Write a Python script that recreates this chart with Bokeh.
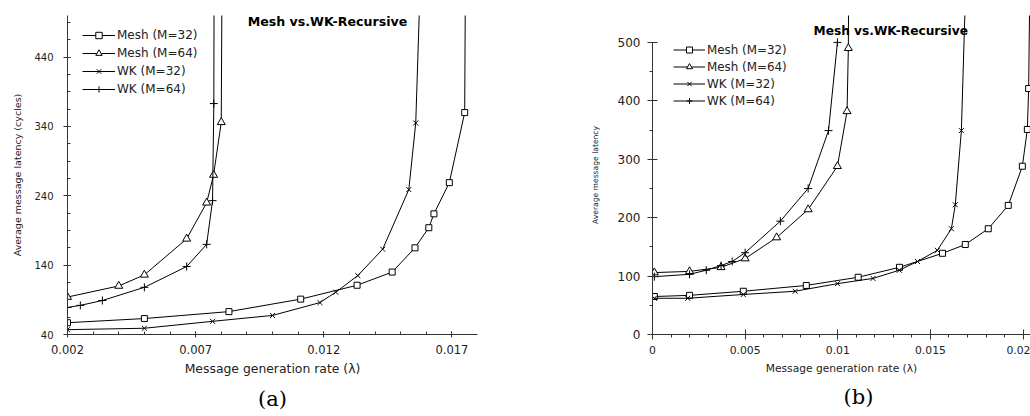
import numpy as np
from bokeh.plotting import figure
from bokeh.layouts import row
from bokeh.models import FixedTicker, Range1d, Label, Title, Legend, LegendItem
from bokeh.embed import file_html
from bokeh.resources import INLINE

# ---------------- data: panel (a) ----------------
a_mesh32_x = [0.002, 0.005, 0.0083, 0.0111, 0.0133, 0.01467, 0.01556, 0.0161, 0.0163, 0.0169, 0.0175, 0.01755]
a_mesh32_y = [57, 63, 73, 91, 111, 130, 165, 194, 214, 259, 360, 700]
a_mesh64_x = [0.002, 0.004, 0.005, 0.00665, 0.00743, 0.0077, 0.008, 0.00805]
a_mesh64_y = [94, 110, 126, 178, 230, 270, 346, 700]
a_wk32_x = [0.002, 0.005, 0.00766, 0.0100, 0.01185, 0.01247, 0.01333, 0.0143, 0.01532, 0.01559, 0.0159]
a_wk32_y = [47, 49, 59, 67.5, 86, 101, 125, 163, 249, 345, 700]
a_wk64_x = [0.002, 0.0025, 0.00336, 0.005, 0.00665, 0.00743, 0.00766, 0.00771, 0.00773]
a_wk64_y = [79, 82, 89, 108, 138, 170, 233, 373, 700]
a_xticks = [0.002, 0.007, 0.012, 0.017]
a_xlabels = ["0.002", "0.007", "0.012", "0.017"]
a_yticks = [40, 140, 240, 340, 440]

# ---------------- data: panel (b) ----------------
b_mesh32_x = [0.0001, 0.002, 0.0049, 0.0083, 0.0111, 0.01333, 0.01565, 0.01688, 0.01812, 0.0192, 0.01996, 0.02023, 0.0203, 0.0204]
b_mesh32_y = [65, 67, 74, 84, 98, 115, 139, 154, 181, 221, 288, 351, 421, 700]
b_mesh64_x = [0.0001, 0.002, 0.0037, 0.005, 0.0067, 0.0084, 0.00998, 0.0105, 0.01057, 0.0106]
b_mesh64_y = [106, 108, 115, 130, 166, 214, 288, 382, 490, 700]
b_wk32_x = [0.0001, 0.0019, 0.0049, 0.0077, 0.00998, 0.0119, 0.01332, 0.0143, 0.01537, 0.01613, 0.01634, 0.01667, 0.0170]
b_wk32_y = [62, 62, 68.5, 74, 87, 96, 110, 125, 144, 181, 222, 349, 700]
b_wk64_x = [0.0001, 0.002, 0.0029, 0.0037, 0.0043, 0.005, 0.0069, 0.0084, 0.0095, 0.00998]
b_wk64_y = [99, 103, 110, 118, 125, 140, 194, 250, 349, 500]
b_xticks = [0, 0.005, 0.01, 0.015, 0.02]
b_xlabels = ["0", "0.005", "0.01", "0.015", "0.02"]
b_yticks = [0, 100, 200, 300, 400, 500]

series_names = ["Mesh (M=32)", "Mesh (M=64)", "WK (M=32)", "WK (M=64)"]
markers = ["square", "triangle", "x", "cross"]
msizes = [6, 8, 7, 8]

FONT = "DejaVu Sans"
AXC = "#333333"
TXC = "#222222"


def style_axes(p, xt, xl, xminor, yt, yminor, tick_font_x, tick_font_y, lab_font_x, lab_font_y,
               xlab, ylab, xt_in, xt_out, xm_in, xm_out, yt_in, yt_out, ym_in, ym_out,
               x_std, x_lstd, y_std, y_lstd):
    p.outline_line_color = None
    p.xgrid.visible = False
    p.ygrid.visible = False
    p.xaxis.ticker = FixedTicker(ticks=xt, minor_ticks=xminor)
    p.xaxis.major_label_overrides = {t: l for t, l in zip(xt, xl)}
    p.yaxis.ticker = FixedTicker(ticks=yt, minor_ticks=yminor)
    for ax in (p.xaxis[0], p.yaxis[0]):
        ax.axis_line_color = AXC
        ax.major_tick_line_color = AXC
        ax.minor_tick_line_color = AXC
        ax.major_label_text_font = FONT
        ax.major_label_text_color = TXC
        ax.axis_label_text_font = FONT
        ax.axis_label_text_font_style = "normal"
        ax.axis_label_text_color = TXC
    p.xaxis.major_label_text_font_size = tick_font_x
    p.yaxis.major_label_text_font_size = tick_font_y
    p.xaxis.axis_label = xlab
    p.yaxis.axis_label = ylab
    p.xaxis.axis_label_text_font_size = lab_font_x
    p.yaxis.axis_label_text_font_size = lab_font_y
    p.xaxis.major_tick_in = xt_in
    p.xaxis.major_tick_out = xt_out
    p.xaxis.minor_tick_in = xm_in
    p.xaxis.minor_tick_out = xm_out
    p.yaxis.major_tick_in = yt_in
    p.yaxis.major_tick_out = yt_out
    p.yaxis.minor_tick_in = ym_in
    p.yaxis.minor_tick_out = ym_out
    p.xaxis.major_label_standoff = x_std
    p.xaxis.axis_label_standoff = x_lstd
    p.yaxis.major_label_standoff = y_std
    p.yaxis.axis_label_standoff = y_lstd


def add_series(p, xs, ys):
    items = []
    for x, y, name, mk, ms in zip(xs, ys, series_names, markers, msizes):
        l = p.line(x, y, line_color="black", line_width=1)
        s = p.scatter(x, y, marker=mk, size=ms, line_color="black", fill_color="white", line_width=1)
        items.append(LegendItem(label=name, renderers=[l, s]))
    return items


# ---------------- panel (a) ----------------
pa = figure(width=560, height=416, output_backend="svg", toolbar_location=None, title=None,
            x_range=Range1d(0.002, 0.018), y_range=Range1d(40, 500),
            min_border_left=67, min_border_right=83, min_border_top=15, min_border_bottom=82)
style_axes(pa, a_xticks, a_xlabels, list(np.arange(0.002, 0.0181, 0.001)),
           a_yticks, list(np.arange(40, 501, 25)),
           "11.5px", "10px", "12.4px", "9.5px",
           "Message generation rate (\u03bb)", "Average message latency (cycles)",
           3, 3, 3, 0, 3, 4, 3, 0,
           7, 4, 10, 8)
items_a = add_series(pa, [a_mesh32_x, a_mesh64_x, a_wk32_x, a_wk64_x],
                     [a_mesh32_y, a_mesh64_y, a_wk32_y, a_wk64_y])
leg_a = Legend(items=items_a, location=(15, 237), glyph_width=33, glyph_height=16,
               label_height=16, spacing=2, padding=0, margin=0, label_standoff=2,
               border_line_alpha=0, background_fill_alpha=0,
               label_text_font=FONT, label_text_font_size="12px", label_text_color=TXC)
pa.add_layout(leg_a)
pa.add_layout(Label(x=0.00903, y=491, text="Mesh vs.WK-Recursive", text_font=FONT,
                    text_font_style="bold", text_font_size="12.6px", text_baseline="middle",
                    text_color="black"))
pa.add_layout(Title(text="(a)", align="center", text_font="DejaVu Serif", text_font_size="21px",
                    text_font_style="normal", text_color="black", standoff=12), "below")

# ---------------- panel (b) ----------------
pb = figure(width=470, height=416, output_backend="svg", toolbar_location=None, title=None,
            x_range=Range1d(0, 0.0204), y_range=Range1d(0, 546),
            min_border_left=92, min_border_right=0, min_border_top=15, min_border_bottom=82)
style_axes(pb, b_xticks, b_xlabels, list(np.arange(0, 0.0205, 0.001)),
           b_yticks, list(np.arange(0, 501, 50)),
           "10.8px", "12px", "10.7px", "7.6px",
           "Message generation rate (\u03bb)", "Average message latency",
           5, 5, 0, 3, 5, 5, 0, 3,
           6, 5, 7, 15)
pb.yaxis.bounds = (0, 500)
items_b = add_series(pb, [b_mesh32_x, b_mesh64_x, b_wk32_x, b_wk64_x],
                     [b_mesh32_y, b_mesh64_y, b_wk32_y, b_wk64_y])
leg_b = Legend(items=items_b, location=(21, 226), glyph_width=32, glyph_height=15,
               label_height=15, spacing=2, padding=0, margin=0, label_standoff=2,
               border_line_alpha=0, background_fill_alpha=0,
               label_text_font=FONT, label_text_font_size="11.9px", label_text_color=TXC)
pb.add_layout(leg_b)
pb.add_layout(Label(x=0.00869, y=519, text="Mesh vs.WK-Recursive", text_font=FONT,
                    text_font_style="bold", text_font_size="12.2px", text_baseline="middle",
                    text_color="black"))
pb.add_layout(Title(text="(b)", align="left", offset=191, text_font="DejaVu Serif",
                    text_font_size="21px", text_font_style="normal", text_color="black",
                    standoff=11), "below")

layout = row(pa, pb)
open("out.html", "w").write(file_html(layout, INLINE))
